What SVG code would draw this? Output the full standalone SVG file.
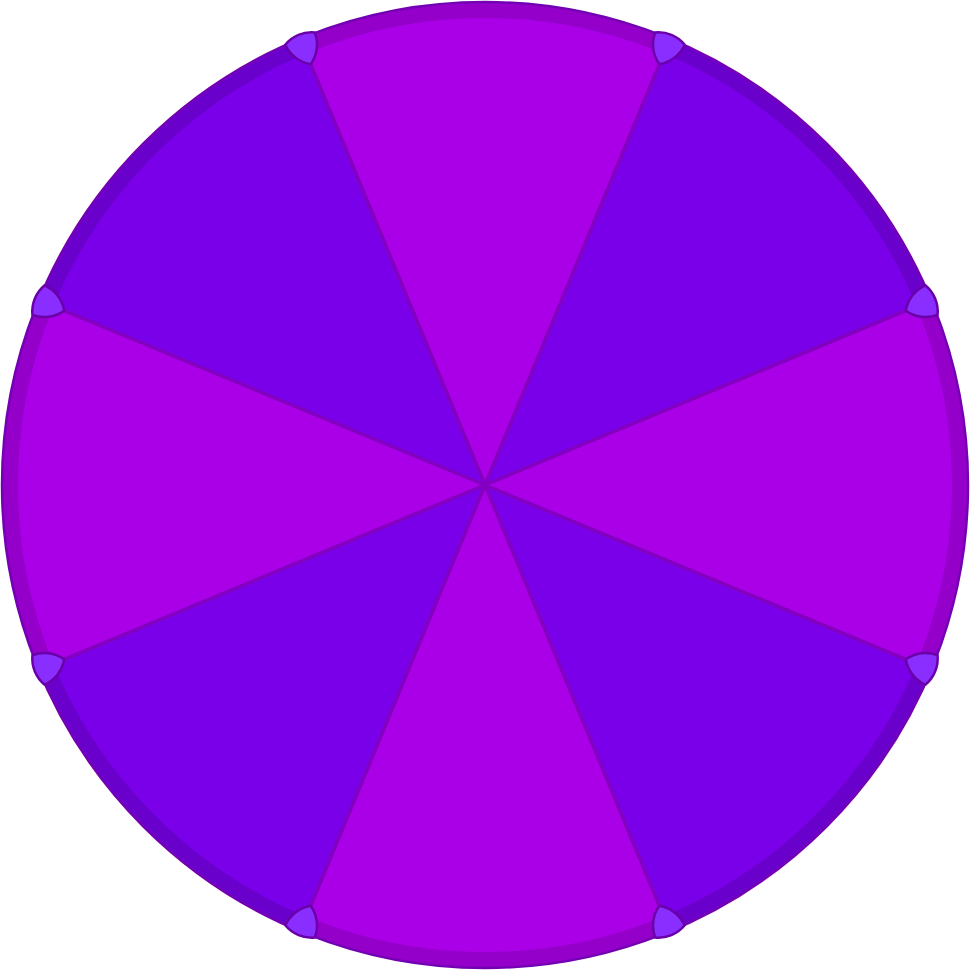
<svg xmlns="http://www.w3.org/2000/svg" width="970" height="970" viewBox="0 0 970 970">
<style>
.mag{fill:#aa00e8}
.vio{fill:#7a00ea}
.ring{fill:none;stroke:#000;stroke-opacity:0.13;stroke-width:16}
.edge{fill:none;stroke:#7400b4;stroke-width:2.5}
.spoke{stroke:#8400c0;stroke-width:3.5;stroke-linecap:round}
.node{fill:#8a2eff;stroke:#6a00a8;stroke-width:2.5;stroke-linejoin:round}
</style>
<defs>
<path id="tri" d="M0,18.5 A34,34 0 0 1 -16,-9.24 A34,34 0 0 1 16,-9.24 A34,34 0 0 1 0,18.5 Z"/>
</defs>
<g id="sectors">
<path class="mag" d="M485,485 L300.16,38.77 A483,483 0 0 1 669.84,38.77 Z"/>
<path class="vio" d="M485,485 L669.84,38.77 A483,483 0 0 1 931.23,300.16 Z"/>
<path class="mag" d="M485,485 L931.23,300.16 A483,483 0 0 1 931.23,669.84 Z"/>
<path class="vio" d="M485,485 L931.23,669.84 A483,483 0 0 1 669.84,931.23 Z"/>
<path class="mag" d="M485,485 L669.84,931.23 A483,483 0 0 1 300.16,931.23 Z"/>
<path class="vio" d="M485,485 L300.16,931.23 A483,483 0 0 1 38.77,669.84 Z"/>
<path class="mag" d="M485,485 L38.77,669.84 A483,483 0 0 1 38.77,300.16 Z"/>
<path class="vio" d="M485,485 L38.77,300.16 A483,483 0 0 1 300.16,38.77 Z"/>
</g>
<g id="rim">
<circle class="ring" cx="485" cy="485" r="475"/>
<circle class="edge" cx="485" cy="485" r="483"/>
</g>
<g id="connectors">
<line class="spoke" x1="485" y1="485" x2="310.6" y2="64"/>
<line class="spoke" x1="485" y1="485" x2="659.4" y2="64"/>
<line class="spoke" x1="485" y1="485" x2="906" y2="310.6"/>
<line class="spoke" x1="485" y1="485" x2="906" y2="659.4"/>
<line class="spoke" x1="485" y1="485" x2="659.4" y2="906"/>
<line class="spoke" x1="485" y1="485" x2="310.6" y2="906"/>
<line class="spoke" x1="485" y1="485" x2="64" y2="659.4"/>
<line class="spoke" x1="485" y1="485" x2="64" y2="310.6"/>
</g>
<g id="node1"><use href="#tri" class="node" transform="translate(303.6,47.1) rotate(-22.5)"/></g>
<g id="node2"><use href="#tri" class="node" transform="translate(666.4,47.1) rotate(22.5)"/></g>
<g id="node3"><use href="#tri" class="node" transform="translate(922.9,303.6) rotate(67.5)"/></g>
<g id="node4"><use href="#tri" class="node" transform="translate(922.9,666.4) rotate(112.5)"/></g>
<g id="node5"><use href="#tri" class="node" transform="translate(666.4,922.9) rotate(157.5)"/></g>
<g id="node6"><use href="#tri" class="node" transform="translate(303.6,922.9) rotate(202.5)"/></g>
<g id="node7"><use href="#tri" class="node" transform="translate(47.1,666.4) rotate(247.5)"/></g>
<g id="node8"><use href="#tri" class="node" transform="translate(47.1,303.6) rotate(292.5)"/></g>
</svg>
